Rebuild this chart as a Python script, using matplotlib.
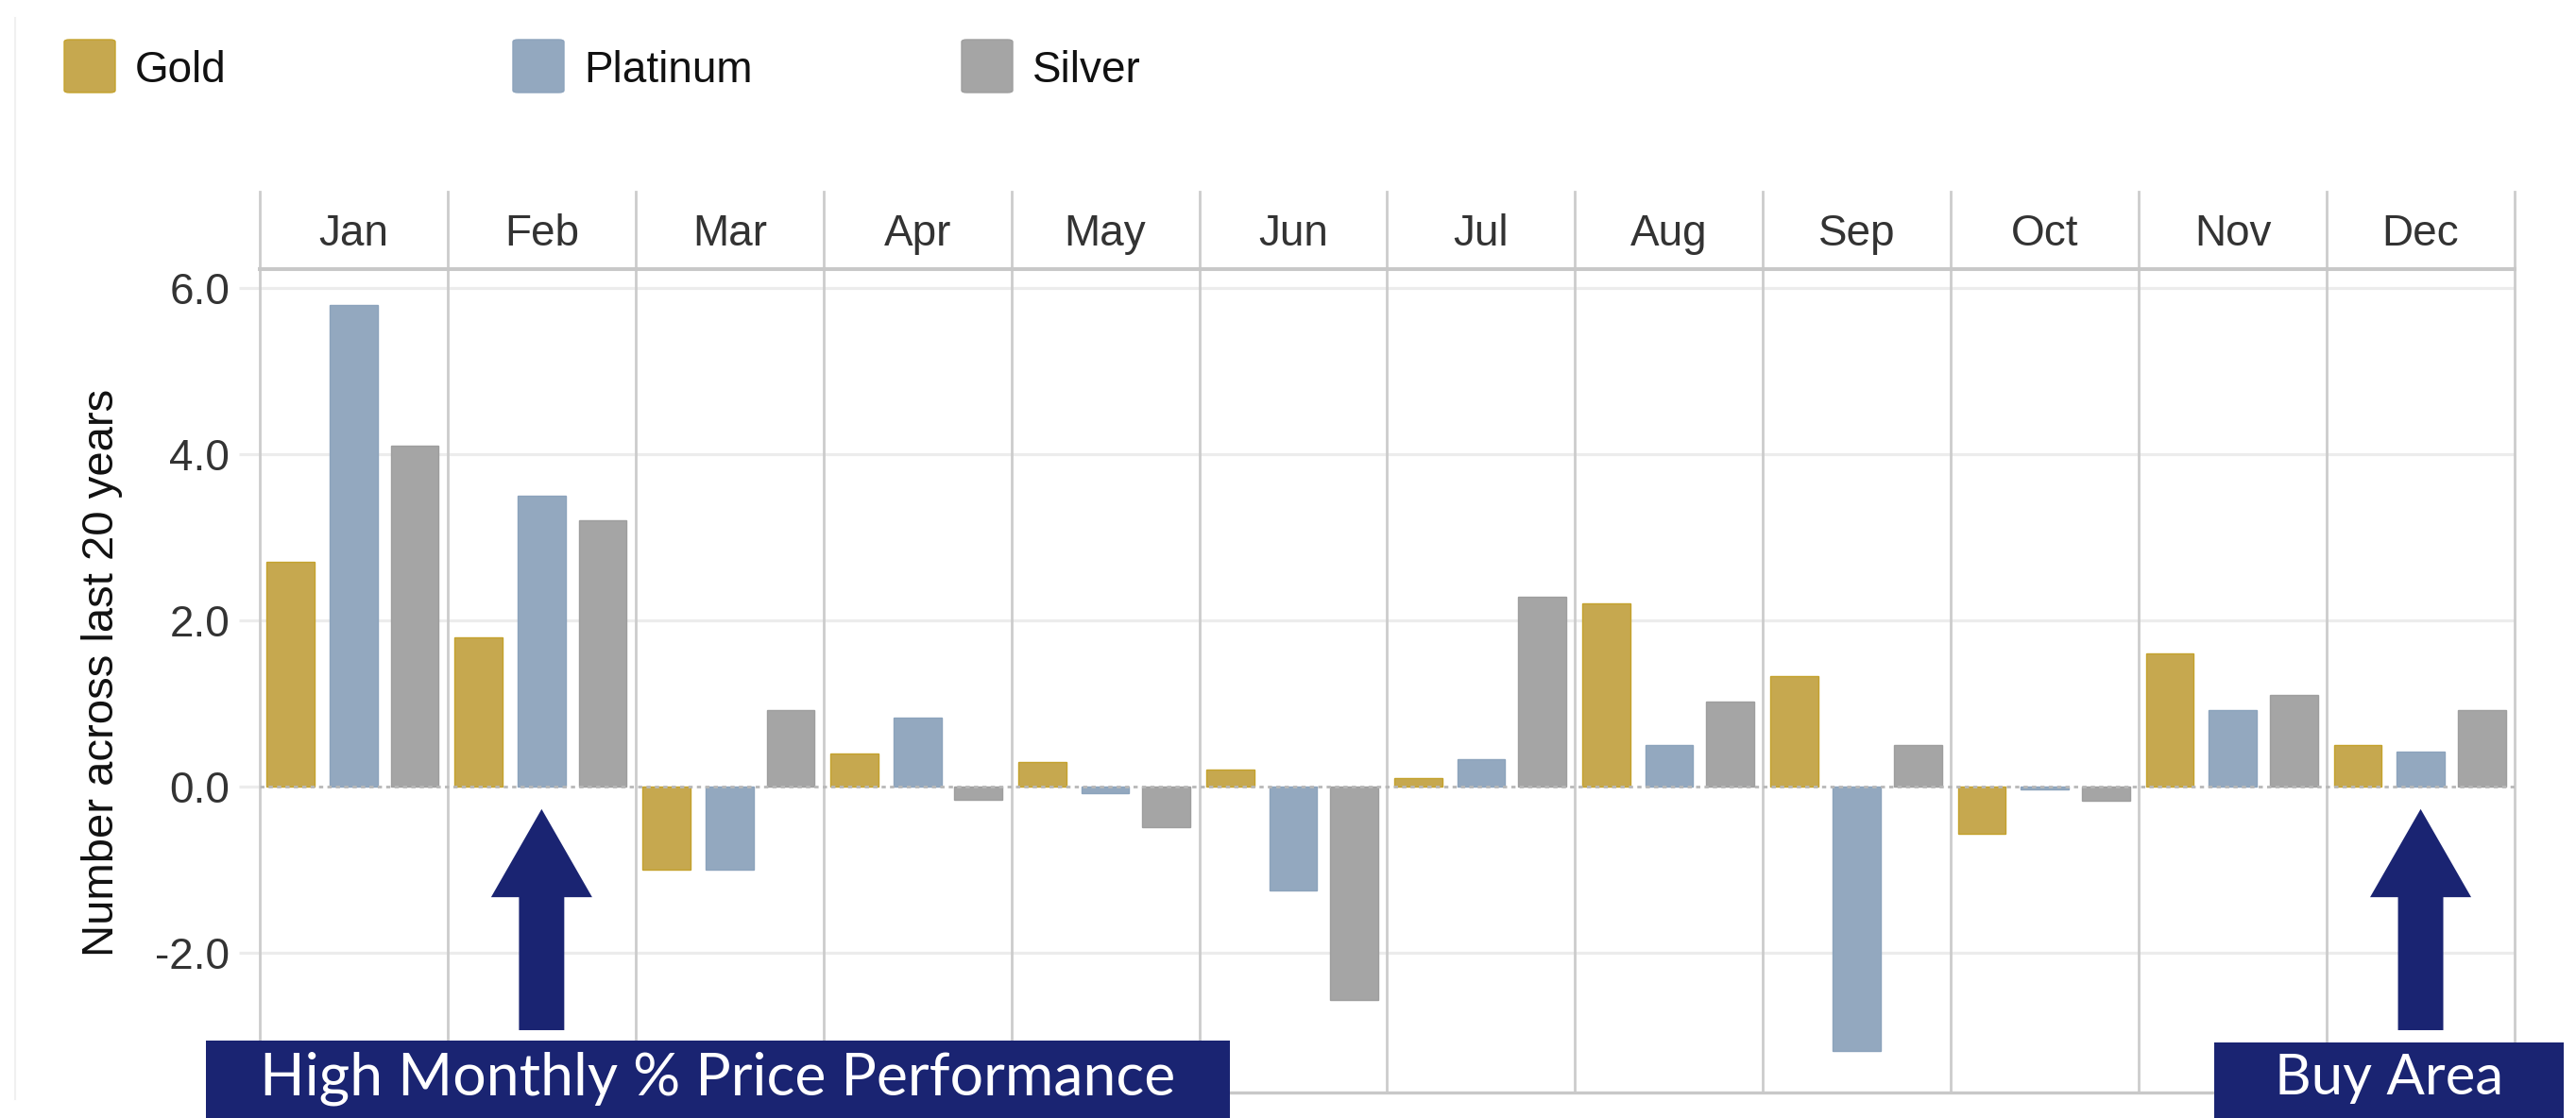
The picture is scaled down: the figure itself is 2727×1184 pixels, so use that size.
import matplotlib
matplotlib.use("Agg")
import matplotlib.pyplot as plt
from matplotlib.patches import Rectangle, FancyBboxPatch, FancyArrow
from matplotlib.lines import Line2D
import numpy as np

# ---------------- data ----------------
months = ["Jan", "Feb", "Mar", "Apr", "May", "Jun",
          "Jul", "Aug", "Sep", "Oct", "Nov", "Dec"]
series_names = ["Gold", "Platinum", "Silver"]
gold = [2.7, 1.8, -1.0, 0.4, 0.3, 0.2, 0.1, 2.2, 1.33, -0.57, 1.6, 0.5]
platinum = [5.8, 3.5, -1.0, 0.83, -0.08, -1.25, 0.33, 0.5, -3.18, -0.03, 0.92, 0.42]
silver = [4.1, 3.2, 0.92, -0.16, -0.49, -2.57, 2.29, 1.02, 0.5, -0.17, 1.1, 0.92]
y_ticks = [-2.0, 0.0, 2.0, 4.0, 6.0]
y_tick_labels = ["-2.0", "0.0", "2.0", "4.0", "6.0"]
y_label = "Number across last 20 years"
annot_left = "High Monthly % Price Performance"
annot_right = "Buy Area"
annot_months = ["Feb", "Dec"]

# ---------------- style ----------------
W, H = 2727, 1184
DPI = 100
fills = ["#C6A84F", "#93A8BF", "#A5A5A5"]
edges = ["#C4A22C", "#8CA3BC", "#9E9E9E"]
navy = "#1A2472"
grid_c = "#ECECEC"
sep_c = "#CCCCCC"
text_c = "#333333"
base_font = ["Liberation Sans", "DejaVu Sans"]
annot_font = ["Lato", "DejaVu Sans"]
plt.rcParams["font.family"] = base_font

fig = plt.figure(figsize=(W / DPI, H / DPI), dpi=DPI)
fig.patch.set_facecolor("white")

def fx(px):
    return px / W

def fy(py):
    return 1 - py / H

ax_left, ax_right, ax_top, ax_bottom = 275, 2662, 285, 1157
ax = fig.add_axes([fx(ax_left), fy(ax_bottom), fx(ax_right - ax_left), (ax_bottom - ax_top) / H])
ax.set_facecolor("white")

x = np.arange(len(months))
offsets = [-0.335, 0.0, 0.325]
bw = 0.255
for vals, off, fc, ec in zip([gold, platinum, silver], offsets, fills, edges):
    ax.bar(x + off, vals, width=bw, color=fc, edgecolor=ec, linewidth=1.0, zorder=3)

ax.set_xlim(-0.5, len(months) - 0.5)
ax.set_ylim(-3.68, 6.227)

# grid
ax.set_yticks(y_ticks)
ax.set_yticklabels(y_tick_labels)
ax.yaxis.grid(True, color=grid_c, linewidth=2.3, zorder=0)
ax.set_axisbelow(True)
for t in ax.yaxis.get_major_ticks():
    if abs(t.get_loc()) < 1e-9:
        t.gridline.set_visible(False)
ax.axhline(0, color="#B8B8B8", linewidth=2.0, linestyle=(0, (1.6, 1.6)), zorder=4)

ax.tick_params(axis="y", length=16, width=2.3, color=grid_c, pad=7,
               labelsize=33, labelcolor=text_c)

# month labels on top
ax.set_xticks(x)
ax.set_xticklabels(months)
ax.tick_params(axis="x", top=True, bottom=False, labeltop=True, labelbottom=False,
               length=0, pad=11, labelsize=33, labelcolor=text_c)

for s in ["left", "right"]:
    ax.spines[s].set_visible(False)
ax.spines["top"].set_color("#C8C8C8")
ax.spines["top"].set_linewidth(2.9)
ax.spines["bottom"].set_color("#C8C8C8")
ax.spines["bottom"].set_linewidth(2.4)

# column separators extending into header
header_frac = 1 + (ax_top - 203) / (ax_bottom - ax_top)
for b in np.arange(-0.5, len(months), 1.0):
    ax.axvline(b, ymin=0, ymax=header_frac, color=sep_c, linewidth=2.0,
               clip_on=False, zorder=2)

# y label
fig.text(fx(108), fy(712), y_label, rotation=90, ha="center", va="center",
         fontsize=34, color="#111111")

# legend (manual)
leg_sq_x = [68, 543, 1018]
leg_txt_x = [143, 618, 1093]
for name, sx, tx, fc, ec in zip(series_names, leg_sq_x, leg_txt_x, fills, edges):
    p = FancyBboxPatch((fx(sx), fy(98)), fx(54), 56 / H,
                       boxstyle="round,pad=0,rounding_size=0.002",
                       transform=fig.transFigure, facecolor=fc, edgecolor=ec,
                       linewidth=1.0)
    fig.patches.append(p)
    fig.text(fx(tx), fy(87), name, ha="left", va="baseline", fontsize=33,
             color="#111111")

# faint page border line on the left
fig.lines.append(Line2D([fx(16), fx(16)], [fy(19), fy(1164)],
                        transform=fig.transFigure, color="#F0F0F0", linewidth=1.5))

# arrows (data coordinates)
for m in annot_months:
    i = months.index(m)
    ax.add_patch(FancyArrow(i, -2.93, 0, 2.66, width=0.241, head_width=0.538,
                            head_length=1.06, length_includes_head=True,
                            color=navy, linewidth=0, zorder=6, clip_on=False))

# annotation boxes
boxes = [(annot_left, 218, 1302, 1102, 968), (annot_right, 2344, 2714, 1104, 242)]
renderer = fig.canvas.get_renderer()
for txt, x0, x1, y0, target_w in boxes:
    fig.patches.append(Rectangle((fx(x0), 0), fx(x1 - x0), (H - y0) / H,
                                 transform=fig.transFigure, facecolor=navy,
                                 edgecolor="none", zorder=5))
    t = fig.text(fx((x0 + x1) / 2), fy(1142), txt, ha="center", va="center",
                 fontsize=40, color="white", family=annot_font, zorder=6)
    w = t.get_window_extent(renderer=renderer).width
    t.set_fontsize(40 * target_w / w)

fig.savefig("out.png", dpi=DPI)
